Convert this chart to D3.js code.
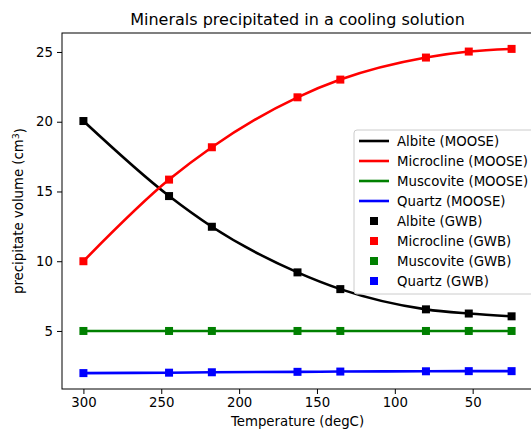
<!DOCTYPE html>
<html>
<head>
    <meta charset="utf-8">
    <title>Minerals precipitated in a cooling solution</title>
    <script src="https://d3js.org/d3.v7.min.js"></script>
    <style>
        body { margin: 0; background: #fff; }
        text { font-family: "DejaVu Sans", sans-serif; fill: #000; }
    </style>
</head>
<body>
    <div id="chart"></div>
    <script>

        // temperatures (degC) of the GWB and MOOSE points
        var temps = [300, 245, 217.5, 162.5, 135, 80, 52.5, 25];

        var albite = [20.05, 14.67, 12.47, 9.2, 8.0, 6.55, 6.25, 6.05];
        var microcline = [10.0, 15.85, 18.17, 21.75, 23.02, 24.6, 25.03, 25.22];
        var muscovite = [5, 5, 5, 5, 5, 5, 5, 5];
        var quartz = [1.98, 2.01, 2.04, 2.07, 2.09, 2.11, 2.12, 2.12];

        var mineralNames = ["Albite", "Microcline", "Muscovite", "Quartz"];
        var mineralColors = ["black", "red", "green", "blue"];
        var xTicks = [300, 250, 200, 150, 100, 50];
        var yTicks = [5, 10, 15, 20, 25];

        var series = [albite, microcline, muscovite, quartz];

        var W = 531, H = 430;
        var margin = { top: 33, left: 62, bottom: 41, right: -2 };
        var width = W - margin.left - margin.right;
        var height = H - margin.top - margin.bottom;

        var svg = d3.select("#chart")
            .append("svg")
            .attr("width", W)
            .attr("height", H);

        var g = svg.append("g")
            .attr("transform", "translate(" + margin.left + "," + margin.top + ")");

        var x = d3.scaleLinear().domain([313.75, 11.25]).range([0, width]);
        var y = d3.scaleLinear().domain([0.84, 26.36]).range([height, 0]);

        // axes
        var xAxis = g.append("g")
            .attr("transform", "translate(0," + height + ")")
            .call(d3.axisBottom(x).tickValues(xTicks).tickSize(5).tickPadding(4).tickSizeOuter(0));
        var yAxis = g.append("g")
            .call(d3.axisLeft(y).tickValues(yTicks).tickSize(5).tickPadding(4).tickSizeOuter(0));

        [xAxis, yAxis].forEach(function(a) {
            a.select(".domain").remove();
            a.selectAll("line").attr("stroke", "#000").attr("stroke-width", 1);
            a.selectAll("text").style("font-size", "13.3px").attr("fill", "#000");
        });

        // frame
        g.append("rect")
            .attr("x", 0).attr("y", 0)
            .attr("width", width).attr("height", height)
            .attr("fill", "none")
            .attr("stroke", "#000")
            .attr("stroke-width", 1);

        // MOOSE lines
        var line = d3.line()
            .x(function(d, i) { return x(temps[i]); })
            .y(function(d) { return y(d); })
            .curve(d3.curveMonotoneX);

        series.forEach(function(s, k) {
            g.append("path")
                .datum(s)
                .attr("d", line)
                .attr("fill", "none")
                .attr("stroke", mineralColors[k])
                .attr("stroke-width", 2.6);
        });

        // GWB markers
        var ms = 8;
        series.forEach(function(s, k) {
            g.append("g").selectAll("rect")
                .data(s)
                .join("rect")
                .attr("x", function(d, i) { return x(temps[i]) - ms / 2; })
                .attr("y", function(d) { return y(d) - ms / 2; })
                .attr("width", ms)
                .attr("height", ms)
                .attr("fill", mineralColors[k]);
        });

        // title and labels
        svg.append("text")
            .attr("x", margin.left + width / 2)
            .attr("y", 25)
            .attr("text-anchor", "middle")
            .style("font-size", "16px")
            .text("Minerals precipitated in a cooling solution");

        svg.append("text")
            .attr("x", margin.left + width / 2)
            .attr("y", 426)
            .attr("text-anchor", "middle")
            .style("font-size", "13.3px")
            .text("Temperature (degC)");

        var yl = svg.append("text")
            .attr("transform", "translate(23," + (margin.top + height / 2) + ") rotate(-90)")
            .attr("text-anchor", "middle")
            .style("font-size", "13.3px");
        yl.append("tspan").text("precipitate volume (cm");
        yl.append("tspan").attr("dy", "-0.45em").style("font-size", "9.5px").text("3");
        yl.append("tspan").attr("dy", "0.45em").text(")");

        // legend
        var lg = svg.append("g").attr("transform", "translate(354,130)");
        lg.append("rect")
            .attr("width", 182).attr("height", 164)
            .attr("rx", 3)
            .attr("fill", "white").attr("fill-opacity", 0.8)
            .attr("stroke", "#ccc").attr("stroke-width", 1);

        var entries = mineralNames.map(function(n, k) { return { name: n + " (MOOSE)", color: mineralColors[k], type: "line" }; })
            .concat(mineralNames.map(function(n, k) { return { name: n + " (GWB)", color: mineralColors[k], type: "marker" }; }));

        entries.forEach(function(e, i) {
            var cy = 11 + i * 20;
            if (e.type === "line") {
                lg.append("line")
                    .attr("x1", 5).attr("x2", 35)
                    .attr("y1", cy).attr("y2", cy)
                    .attr("stroke", e.color).attr("stroke-width", 2.6);
            } else {
                lg.append("rect")
                    .attr("x", 20 - ms / 2).attr("y", cy - ms / 2)
                    .attr("width", ms).attr("height", ms)
                    .attr("fill", e.color);
            }
            lg.append("text")
                .attr("x", 43).attr("y", cy)
                .attr("dy", "0.35em")
                .style("font-size", "13.3px")
                .text(e.name);
        });

    </script>
</body>
</html>
